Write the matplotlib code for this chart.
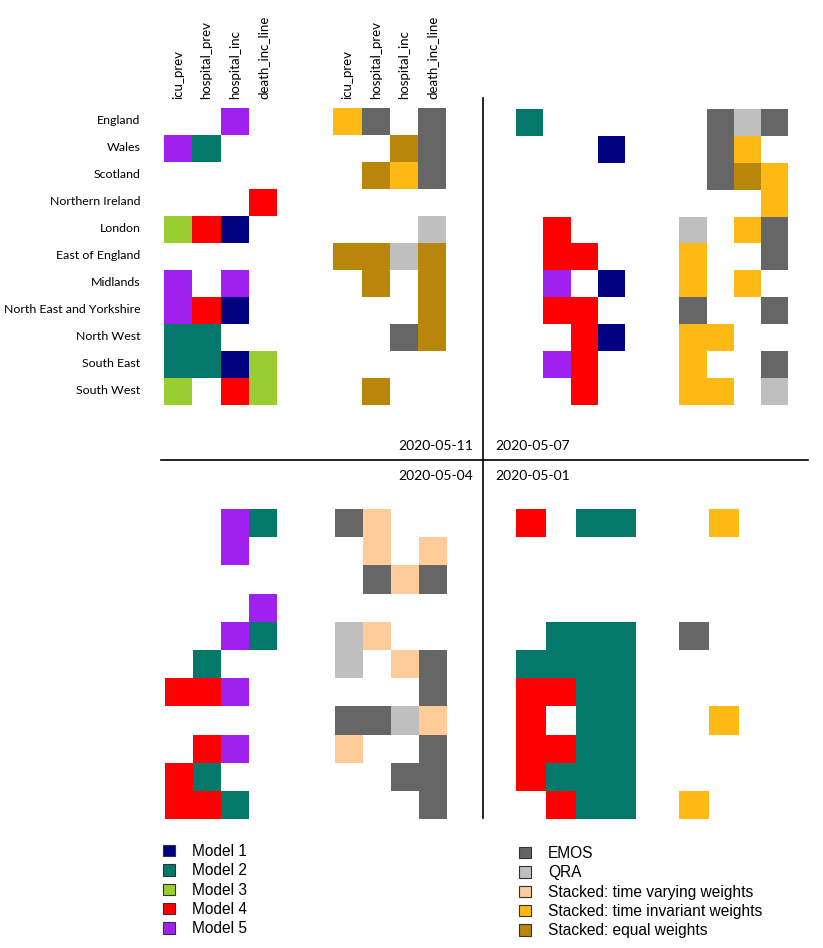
"""
Best performing forecast per region and target, four forecast dates.
Left block of each panel: individual models, right block: combination methods.
"""
import matplotlib
matplotlib.use('Agg')
import matplotlib.pyplot as plt
import numpy as np
from matplotlib.colors import ListedColormap, BoundaryNorm
from matplotlib.patches import Patch
from matplotlib.lines import Line2D

regions = ['England', 'Wales', 'Scotland', 'Northern Ireland', 'London',
           'East of England', 'Midlands', 'North East and Yorkshire',
           'North West', 'South East', 'South West']
targets = ['icu_prev', 'hospital_prev', 'hospital_inc', 'death_inc_line']

model_names = ['Model 1', 'Model 2', 'Model 3', 'Model 4', 'Model 5']
model_colors = ['#000080', '#04796b', '#9acd32', '#ff0000', '#a020f0']
combo_names = ['EMOS', 'QRA', 'Stacked: time varying weights',
               'Stacked: time invariant weights', 'Stacked: equal weights']
combo_colors = ['#666666', '#bfbfbf', '#ffcc99', '#ffb914', '#b8860b']

# codes: 0 = none, otherwise 1-based index into model_names / combo_names
# rows follow `regions`, columns follow `targets`
models_0511 = [[0, 0, 5, 0], [5, 2, 0, 0], [0, 0, 0, 0], [0, 0, 0, 4],
               [3, 4, 1, 0], [0, 0, 0, 0], [5, 0, 5, 0], [5, 4, 1, 0],
               [2, 2, 0, 0], [2, 2, 1, 3], [3, 0, 4, 3]]
combos_0511 = [[4, 1, 0, 1], [0, 0, 5, 1], [0, 5, 4, 1], [0, 0, 0, 0],
               [0, 0, 0, 2], [5, 5, 2, 5], [0, 5, 0, 5], [0, 0, 0, 5],
               [0, 0, 1, 5], [0, 0, 0, 0], [0, 5, 0, 0]]

models_0507 = [[2, 0, 0, 0], [0, 0, 0, 1], [0, 0, 0, 0], [0, 0, 0, 0],
               [0, 4, 0, 0], [0, 4, 4, 0], [0, 5, 0, 1], [0, 4, 4, 0],
               [0, 0, 4, 1], [0, 5, 4, 0], [0, 0, 4, 0]]
combos_0507 = [[0, 1, 2, 1], [0, 1, 4, 0], [0, 1, 5, 4], [0, 0, 0, 4],
               [2, 0, 4, 1], [4, 0, 0, 1], [4, 0, 4, 0], [1, 0, 0, 1],
               [4, 4, 0, 0], [4, 0, 0, 1], [4, 4, 0, 2]]

models_0504 = [[0, 0, 5, 2], [0, 0, 5, 0], [0, 0, 0, 0], [0, 0, 0, 5],
               [0, 0, 5, 2], [0, 2, 0, 0], [4, 4, 5, 0], [0, 0, 0, 0],
               [0, 4, 5, 0], [4, 2, 0, 0], [4, 4, 2, 0]]
combos_0504 = [[1, 3, 0, 0], [0, 3, 0, 3], [0, 1, 3, 1], [0, 0, 0, 0],
               [2, 3, 0, 0], [2, 0, 3, 1], [0, 0, 0, 1], [1, 1, 2, 3],
               [3, 0, 0, 1], [0, 0, 1, 1], [0, 0, 0, 1]]

models_0501 = [[4, 0, 2, 2], [0, 0, 0, 0], [0, 0, 0, 0], [0, 0, 0, 0],
               [0, 2, 2, 2], [2, 2, 2, 2], [4, 4, 2, 2], [4, 0, 2, 2],
               [4, 4, 2, 2], [4, 2, 2, 2], [0, 4, 2, 2]]
combos_0501 = [[0, 4, 0, 0], [0, 0, 0, 0], [0, 0, 0, 0], [0, 0, 0, 0],
               [1, 0, 0, 0], [0, 0, 0, 0], [0, 0, 0, 0], [0, 4, 0, 0],
               [0, 0, 0, 0], [0, 0, 0, 0], [4, 0, 0, 0]]

dates = ['2020-05-11', '2020-05-07', '2020-05-04', '2020-05-01']

W, H = 823, 948
fig = plt.figure(figsize=(W / 100, H / 100), dpi=100)

cmap = ListedColormap(['white'] + model_colors + combo_colors)
norm = BoundaryNorm(np.arange(-0.5, 11.5, 1), cmap.N)

# layout in pixels: left, top, cell width, cell height, gap (in cells)
panels = [
    (models_0511, combos_0511, (164, 108, 28.3, 27.0, 1.98)),
    (models_0507, combos_0507, (516, 109, 27.3, 26.9, 1.98)),
    (models_0504, combos_0504, (165, 509, 28.1, 28.2, 2.05)),
    (models_0501, combos_0501, (516, 509, 30.0, 28.2, 1.43)),
]

axes = []
for models, combos, (left, top, cw, ch, gap) in panels:
    m = np.array(models)
    c = np.array(combos)
    grid = np.hstack([m, np.zeros((len(regions), 1), int),
                      np.where(c > 0, c + len(model_names), 0)])
    xedges = np.concatenate([np.arange(5), 4 + gap + np.arange(5)])
    yedges = np.arange(len(regions) + 1)
    width = xedges[-1] * cw
    height = len(regions) * ch
    ax = fig.add_axes([left / W, 1 - (top + height) / H, width / W, height / H])
    ax.pcolormesh(xedges, yedges, grid, cmap=cmap, norm=norm)
    ax.set_xlim(xedges[0], xedges[-1])
    ax.set_ylim(len(regions), 0)
    for s in ax.spines.values():
        s.set_visible(False)
    ax.set_xticks([])
    ax.set_yticks([])
    ax._xcent = np.concatenate([np.arange(4) + 0.5, 4 + gap + np.arange(4) + 0.5])
    axes.append(ax)

# row and column labels on the first panel only
ax = axes[0]
ax.set_yticks(np.arange(len(regions)) + 0.42)
ax.set_yticklabels(regions, family='Lato', fontsize=8.9)
ax.tick_params(axis='y', length=0, pad=17)
ax.xaxis.tick_top()
ax.set_xticks(ax._xcent)
ax.set_xticklabels(targets + targets, rotation=90, family='Lato', fontsize=9.5)
ax.tick_params(axis='x', length=0, pad=6.5)

# separators between the four dates
fig.add_artist(Line2D([483 / W, 483 / W], [1 - 98 / H, 1 - 818 / H], color='black', lw=1.2))
fig.add_artist(Line2D([161 / W, 808 / W], [1 - 460 / H, 1 - 460 / H], color='black', lw=1.2))

fig.text(473 / W, 1 - 446 / H, dates[0], ha='right', va='center', family='Lato', fontsize=10)
fig.text(495 / W, 1 - 446 / H, dates[1], ha='left', va='center', family='Lato', fontsize=10)
fig.text(473 / W, 1 - 476 / H, dates[2], ha='right', va='center', family='Lato', fontsize=10)
fig.text(495 / W, 1 - 476 / H, dates[3], ha='left', va='center', family='Lato', fontsize=10)

# legends
h1 = [Patch(facecolor=col, edgecolor='#333333', lw=0.8, label=n)
      for n, col in zip(model_names, model_colors)]
h2 = [Patch(facecolor=col, edgecolor='#333333', lw=0.8, label=n)
      for n, col in zip(combo_names, combo_colors)]
leg_kw = dict(frameon=False, handlelength=0.75, handleheight=0.75,
              handletextpad=1.1, labelspacing=0.28, borderpad=0, borderaxespad=0,
              prop={'family': 'Liberation Sans', 'size': 11.2})
fig.legend(handles=h1, loc='upper left', bbox_to_anchor=(163 / W, 1 - 844 / H), **leg_kw)
fig.legend(handles=h2, loc='upper left', bbox_to_anchor=(519 / W, 1 - 846 / H), **leg_kw)

fig.savefig('out.png', dpi=100)
